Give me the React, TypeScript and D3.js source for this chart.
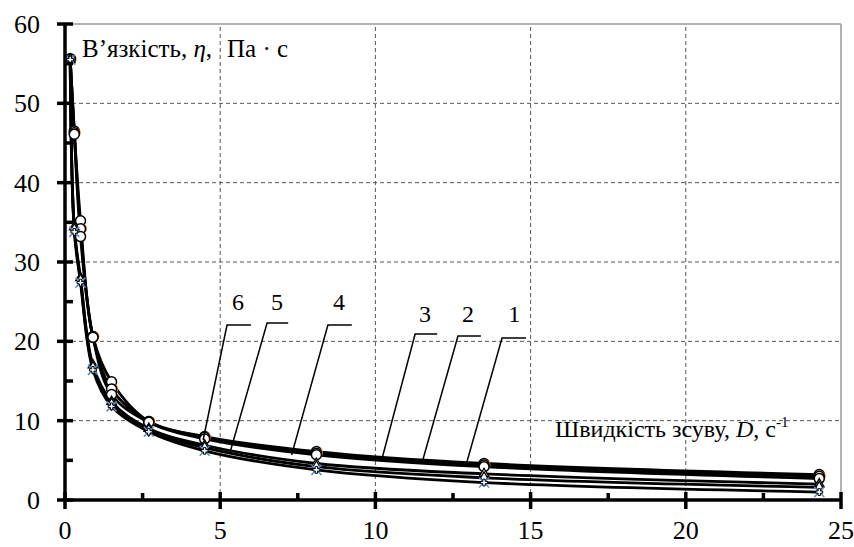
import React, { useEffect, useRef } from "react";
import * as d3 from "d3";

// shear rate points, 1/s
const shearRates = [0.1667, 0.3, 0.5, 0.9, 1.5, 2.7, 4.5, 8.1, 13.5, 24.3];

// viscosity, Pa*s, one array per curve
const visc1 = [55.6, 46.5, 35.2, 20.6, 14.9, 9.9, 8.0, 6.1, 4.6, 3.2];
const visc2 = [55.6, 46.3, 34.2, 20.6, 14.0, 9.9, 7.9, 5.9, 4.4, 3.0];
const visc3 = [55.6, 46.1, 33.2, 20.5, 13.3, 9.8, 7.7, 5.7, 4.2, 2.7];
const visc4 = [55.5, 34.4, 28.0, 17.0, 12.4, 9.0, 6.9, 4.6, 3.3, 2.0];
const visc5 = [55.5, 34.1, 27.7, 16.7, 12.1, 8.8, 6.6, 4.2, 2.8, 1.6];
const visc6 = [55.5, 33.8, 27.4, 16.4, 11.8, 8.6, 6.2, 3.8, 2.2, 1.0];

const xTicks = [0, 5, 10, 15, 20, 25];
const yTicks = [0, 10, 20, 30, 40, 50, 60];

// curve labels with leader lines (data units)
const labelNames = ["6", "5", "4", "3", "2", "1"];
const labelTextPos = [[5.57, 23.9], [6.83, 23.9], [8.83, 23.9], [11.6, 22.4], [12.98, 22.4], [14.47, 22.4]];
const labelShelf = [[5.22, 5.99, 22.06], [6.51, 7.19, 22.31], [8.47, 9.24, 22.06], [11.28, 11.99, 20.93], [12.66, 13.4, 20.68], [14.08, 14.85, 20.42]];
const labelTip = [[4.45, 7.56], [5.32, 6.05], [7.3, 5.67], [10.21, 5.17], [11.5, 4.66], [12.92, 4.41]];

const W = 854, H = 547;

export default function App() {
    const ref = useRef<SVGSVGElement>(null);

    useEffect(() => {
        const svg = d3.select(ref.current);
        svg.selectAll("*").remove();

        const x = d3.scaleLinear().domain([0, 25]).range([65, 841]);
        const y = d3.scaleLinear().domain([0, 60]).range([500, 24]);

        // grid
        const grid = svg.append("g");
        grid.selectAll("line.gy").data(yTicks.filter(t => t > 0 && t < 60)).join("line")
            .attr("x1", x(0)).attr("x2", x(25))
            .attr("y1", d => y(d)).attr("y2", d => y(d))
            .attr("stroke", "#555").attr("stroke-width", 1).attr("stroke-dasharray", "4,3");
        grid.selectAll("line.gx").data(xTicks.filter(t => t > 0 && t < 25)).join("line")
            .attr("y1", y(0)).attr("y2", y(60))
            .attr("x1", d => x(d)).attr("x2", d => x(d))
            .attr("stroke", "#555").attr("stroke-width", 1).attr("stroke-dasharray", "4,3");
        // frame top / right
        svg.append("line").attr("x1", x(0)).attr("x2", x(25)).attr("y1", y(60)).attr("y2", y(60))
            .attr("stroke", "#999").attr("stroke-width", 1.5);
        svg.append("line").attr("x1", x(25)).attr("x2", x(25)).attr("y1", y(60)).attr("y2", y(0))
            .attr("stroke", "#999").attr("stroke-width", 1.5);

        // titles
        const t1 = svg.append("text").attr("x", 82).attr("y", 57).attr("font-size", 25);
        t1.append("tspan").text("В’язкість, ");
        t1.append("tspan").attr("font-style", "italic").text("η");
        t1.append("tspan").text(",");
        svg.append("text").attr("x", 227).attr("y", 57).attr("font-size", 25).text("Па · с");

        const t2 = svg.append("text").attr("x", 555).attr("y", 437).attr("font-size", 24);
        t2.append("tspan").text("Швидкість зсуву, ");
        t2.append("tspan").attr("font-style", "italic").text("D");
        t2.append("tspan").text(", с");
        t2.append("tspan").attr("font-size", 15).attr("dy", -10).text("-1");

        // curves
        const series = [visc1, visc2, visc3, visc4, visc5, visc6];
        const line = d3.line<number>()
            .x((d, i) => x(shearRates[i]))
            .y(d => y(d))
            .curve(d3.curveCatmullRom.alpha(0.5));
        svg.append("g").selectAll("path").data(series).join("path")
            .attr("d", d => line(d))
            .attr("fill", "none").attr("stroke", "#000").attr("stroke-width", 2.8);

        // markers
        const mk = svg.append("g");
        series.forEach((s, si) => {
            s.forEach((v, i) => {
                const cx = x(shearRates[i]), cy = y(v);
                if (si === 5) {
                    mk.append("path")
                        .attr("d", `M${cx - 5},${cy - 5}L${cx + 5},${cy + 5}M${cx - 5},${cy + 5}L${cx + 5},${cy - 5}`)
                        .attr("stroke", "#5b8bd0").attr("stroke-width", 1.5);
                    mk.append("path").attr("d", d3.symbol(d3.symbolCross, 26)() as string)
                        .attr("transform", `translate(${cx},${cy})`)
                        .attr("fill", "#fff").attr("stroke", "#000").attr("stroke-width", 1);
                } else if (si >= 3) {
                    const sym = si === 3 ? d3.symbolTriangle : d3.symbolDiamond;
                    mk.append("path").attr("d", d3.symbol(sym, 40)() as string)
                        .attr("transform", `translate(${cx},${cy})`)
                        .attr("fill", "#fff").attr("stroke", "#000").attr("stroke-width", 1.3);
                } else {
                    if (si === 1) {
                        mk.append("circle").attr("cx", cx + 1).attr("cy", cy).attr("r", 5.5)
                            .attr("fill", "#ed7d31");
                    }
                    mk.append("circle").attr("cx", cx).attr("cy", cy).attr("r", 5)
                        .attr("fill", "#fff").attr("stroke", "#000").attr("stroke-width", 1.5);
                }
            });
        });

        // leader lines + labels
        const lab = svg.append("g");
        labelNames.forEach((n, i) => {
            const [sx0, sx1, sy] = labelShelf[i];
            const [tx, ty] = labelTip[i];
            lab.append("path")
                .attr("d", `M${x(sx1)},${y(sy)}L${x(sx0)},${y(sy)}L${x(tx)},${y(ty)}`)
                .attr("fill", "none").attr("stroke", "#000").attr("stroke-width", 1.5);
            lab.append("text").attr("x", x(labelTextPos[i][0])).attr("y", y(labelTextPos[i][1]))
                .attr("text-anchor", "middle").attr("font-size", 24)
                .text(n);
        });

        // axes
        const ax = svg.append("g").attr("stroke", "#000").attr("stroke-width", 3.5);
        ax.append("line").attr("x1", x(0)).attr("x2", x(25)).attr("y1", y(0)).attr("y2", y(0));
        ax.append("line").attr("x1", x(0)).attr("x2", x(0)).attr("y1", y(0)).attr("y2", y(60));
        ax.selectAll("line.xt").data(xTicks).join("line")
            .attr("x1", d => x(d)).attr("x2", d => x(d)).attr("y1", y(0) - 8).attr("y2", y(0) + 9);
        ax.selectAll("line.xm").data(d3.range(2.5, 25, 5)).join("line")
            .attr("x1", d => x(d)).attr("x2", d => x(d)).attr("y1", y(0) - 7).attr("y2", y(0));
        ax.selectAll("line.yt").data(yTicks).join("line")
            .attr("y1", d => y(d)).attr("y2", d => y(d)).attr("x1", x(0) - 8).attr("x2", x(0) + 8);
        ax.selectAll("line.ym").data(d3.range(5, 60, 10)).join("line")
            .attr("y1", d => y(d)).attr("y2", d => y(d)).attr("x1", x(0)).attr("x2", x(0) + 8);

        svg.append("g").selectAll("text").data(xTicks).join("text")
            .attr("x", d => x(d)).attr("y", 539)
            .attr("text-anchor", "middle").attr("font-size", 26)
            .text(d => d);
        svg.append("g").selectAll("text").data(yTicks).join("text")
            .attr("x", 40).attr("y", d => y(d) + 9)
            .attr("text-anchor", "end").attr("font-size", 26)
            .text(d => d);
    }, []);

    return (
        <svg ref={ref} width={W} height={H}
            style={{
                position: "absolute", left: 0, top: 0, background: "#fff",
                fontFamily: "'Liberation Serif', 'DejaVu Serif', serif"
            }} />
    );
}
